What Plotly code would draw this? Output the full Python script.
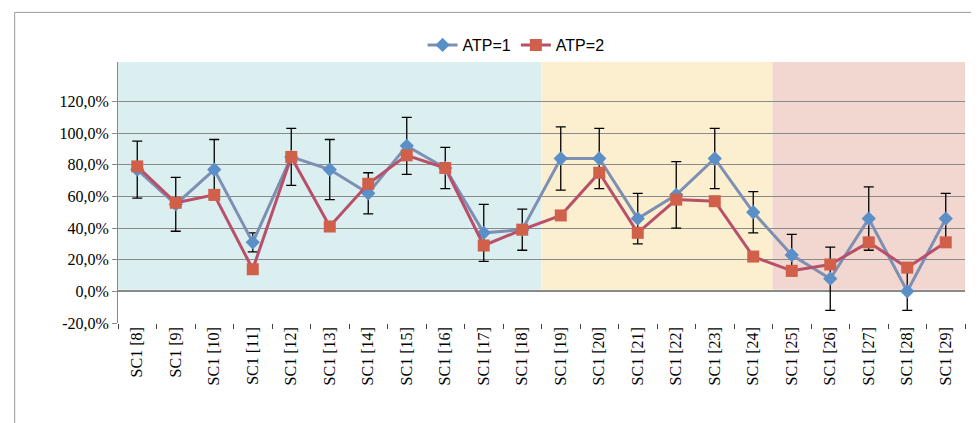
import plotly.graph_objects as go

cats = ["SC1 [%d]" % i for i in range(8, 30)]
atp1 = [77, 55, 77, 31, 85, 77, 62, 92, 78, 37, 39, 84, 84, 46, 61, 84, 50, 23, 8, 46, 0, 46]
atp1_err = [18, 17, 19, 6, 18, 19, 13, 18, 13, 18, 13, 20, 19, 16, 21, 19, 13, 13, 20, 20, 12, 16]
atp2 = [79, 56, 61, 14, 85, 41, 68, 86, 78, 29, 39, 48, 75, 37, 58, 57, 22, 13, 17, 31, 15, 31]

# category bands: (first, last, colour)
bands = [(0, 10, "#dbeef0"), (11, 16, "#fbefcf"), (17, 21, "#f2d6d0")]

fig = go.Figure()
fig.add_trace(go.Scatter(
    x=cats, y=atp1, name="ATP=1", mode="lines+markers",
    line=dict(color="#7d8fb3", width=3),
    marker=dict(symbol="diamond", size=11, color="#5b8fc7"),
    error_y=dict(type="data", array=atp1_err, color="black", thickness=1.3, width=5)))
fig.add_trace(go.Scatter(
    x=cats, y=atp2, name="ATP=2", mode="lines+markers",
    line=dict(color="#b8506a", width=3),
    marker=dict(symbol="square", size=12, color="#d0604a")))

for a, b, c in bands:
    fig.add_shape(type="rect", xref="x", yref="y", x0=a - 0.5, x1=b + 0.5, y0=1, y1=145,
                  fillcolor=c, line_width=0, layer="below")
# outer frame lines (top and left)
fig.add_shape(type="line", xref="paper", yref="paper", x0=-0.122, x1=1.03, y0=1.19, y1=1.19,
              line=dict(color="#999", width=1))
fig.add_shape(type="line", xref="paper", yref="paper", x0=-0.122, x1=-0.122, y0=-0.45, y1=1.19,
              line=dict(color="#999", width=1))

fig.update_layout(
    width=979, height=423, plot_bgcolor="white", paper_bgcolor="white",
    margin=dict(l=110, r=22, t=54, b=108),
    font=dict(family="Liberation Serif", size=16, color="black"),
    legend=dict(orientation="h", x=0.47, xanchor="center", y=1.065, yanchor="middle",
                font=dict(family="Liberation Sans", size=16), bgcolor="white"),
    showlegend=True)
fig.update_xaxes(tickangle=-90, showgrid=False, ticks="outside", tickson="boundaries",
                 showline=False, range=[-0.5, 21.5], automargin=False)
fig.update_yaxes(range=[-20, 145], tickvals=[-20, 0, 20, 40, 60, 80, 100, 120],
                 ticktext=["-20,0%", "0,0%", "20,0%", "40,0%", "60,0%", "80,0%", "100,0%", "120,0%"],
                 showgrid=True, gridcolor="#8a8a8a", gridwidth=1, zeroline=True, zerolinecolor="#8a8a8a",
                 showline=True, linecolor="#8a8a8a", ticks="outside", tickcolor="#8a8a8a",
                 automargin=False)
fig.write_html("out.html")
